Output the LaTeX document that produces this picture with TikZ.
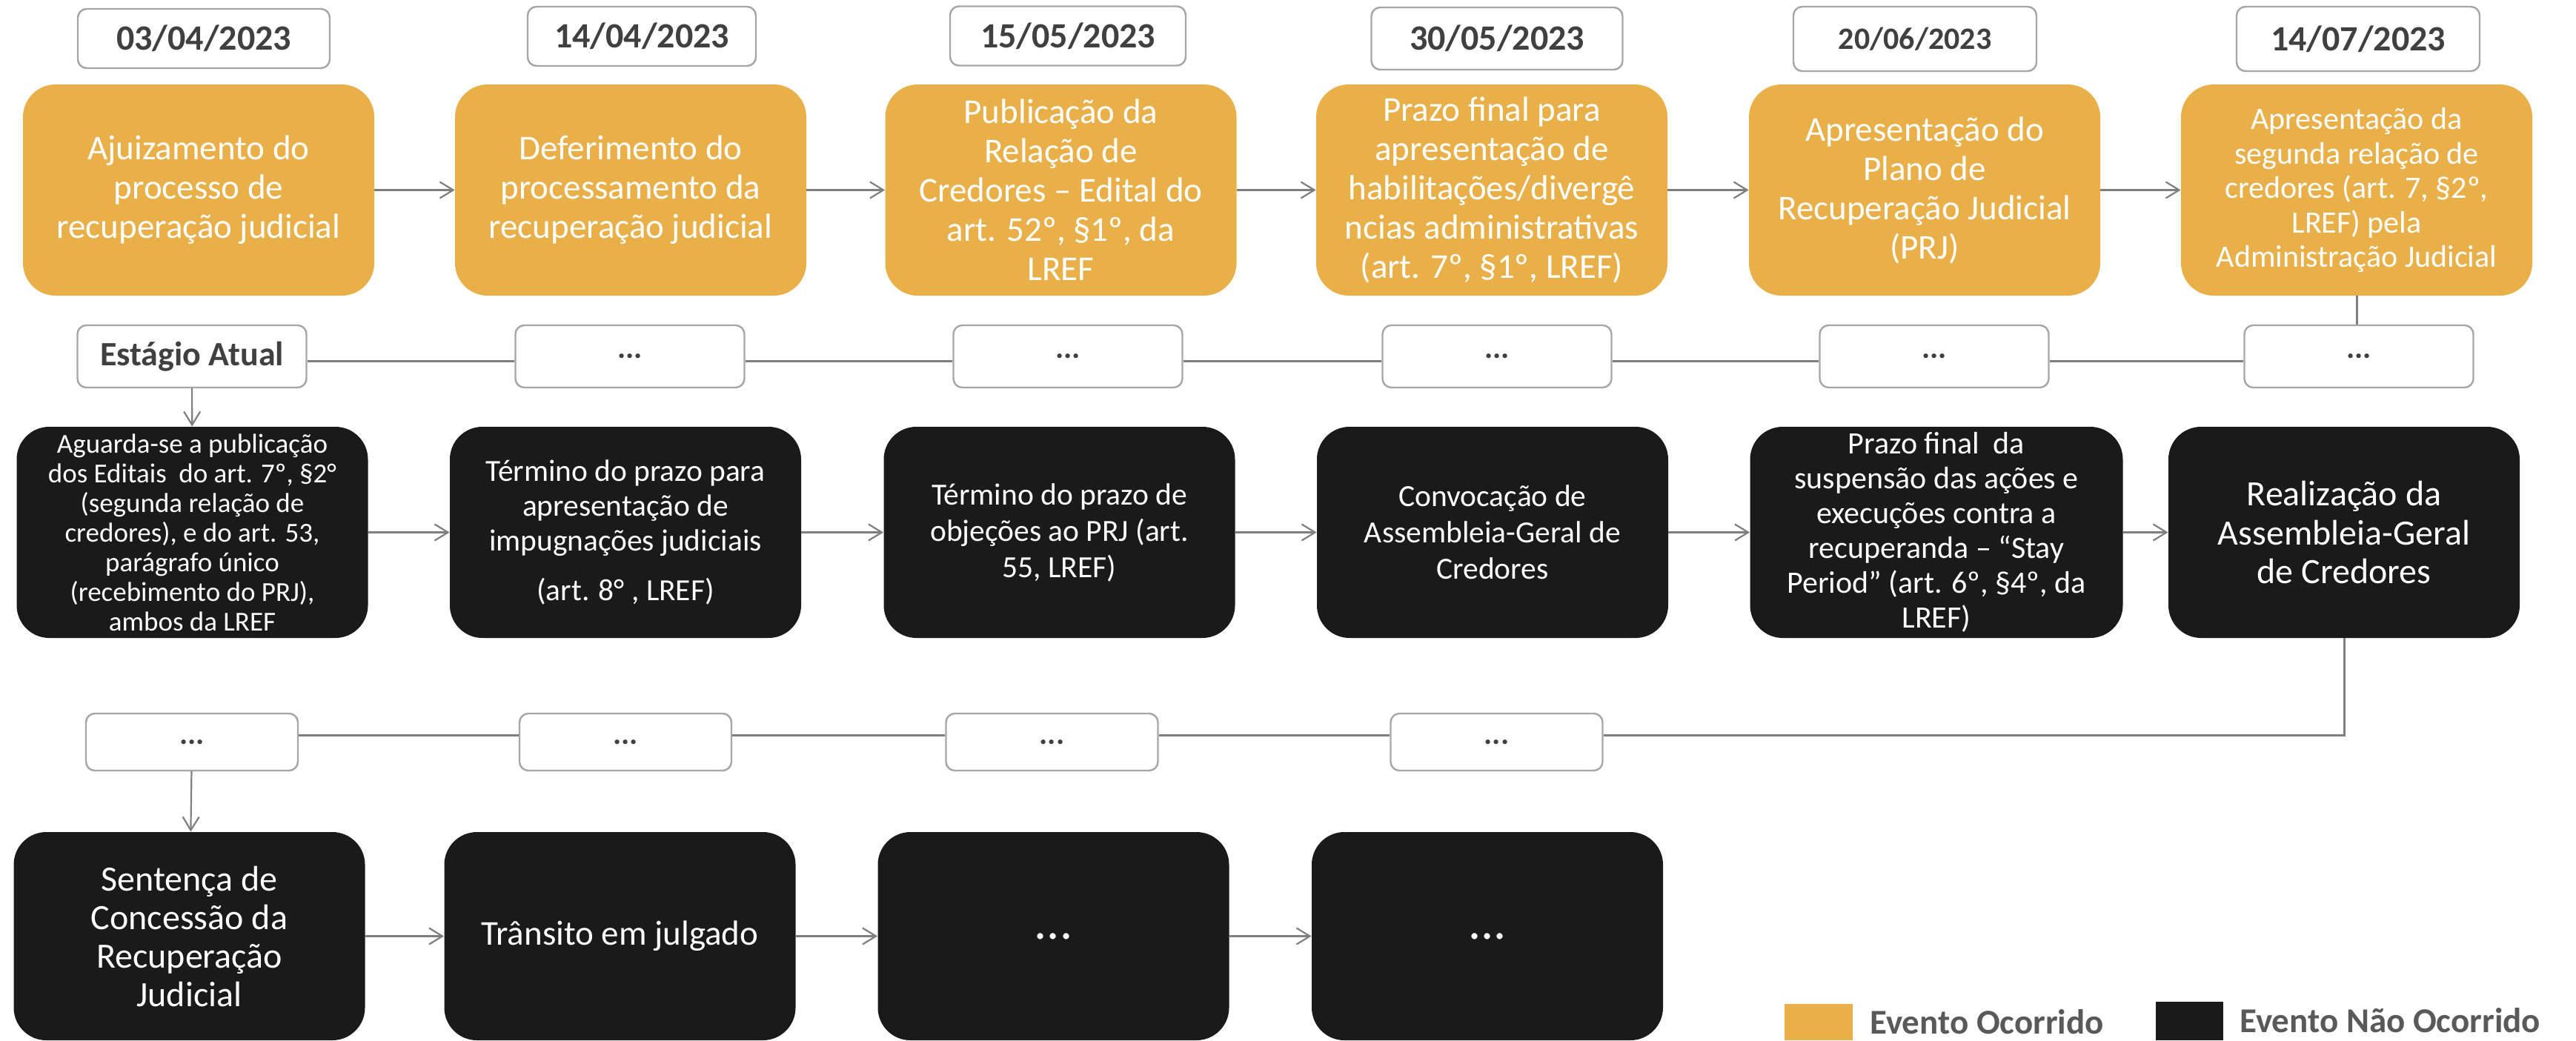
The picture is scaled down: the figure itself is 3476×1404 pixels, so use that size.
\documentclass[tikz,border=0pt]{standalone}
\usepackage{fontspec}
\setmainfont{Carlito}
\usepackage{tikz}
\usetikzlibrary{arrows.meta}
\definecolor{occ}{HTML}{E9B04A}
\definecolor{nocc}{HTML}{1A1A1A}
\definecolor{boxgray}{HTML}{A6A6A6}
\definecolor{lngray}{HTML}{7F7F7F}
\definecolor{txtgray}{HTML}{404040}
\definecolor{keygray}{HTML}{595959}

\begin{document}
\begin{tikzpicture}[x=0.5pt,y=-0.5pt,
  ev/.style={rectangle,rounded corners=22pt,text=white,align=center,inner sep=0pt,
    minimum width=237pt,minimum height=142.5pt,font=\fontsize{23.5}{26.5}\selectfont},
  feito/.style={ev,fill=occ},
  pendente/.style={ev,fill=nocc},
  datebox/.style={rectangle,rounded corners=6pt,draw=boxgray,line width=1.2pt,fill=white,
    inner sep=0pt,minimum height=40pt,text=txtgray,font=\bfseries\fontsize{24}{28}\selectfont},
  dots/.style={datebox,minimum width=154.5pt,minimum height=42pt,font=\bfseries\fontsize{21}{25}\selectfont},
  dotsb/.style={dots,minimum width=143pt,minimum height=38.5pt},
  tl/.style={draw=lngray,line width=1.5pt},
  seta/.style={draw=lngray,line width=1.1pt,-{Straight Barb[length=9pt,width=11pt,line width=1.1pt]}},
  key/.style={inner sep=0pt,text=keygray,font=\bfseries\fontsize{23.5}{27}\selectfont},
]
\useasboundingbox (0,0) rectangle (3476,1404);

\node[datebox,minimum width=170pt] (d1) at (275,52) {03/04/2023};
\node[datebox,minimum width=154pt] (d2) at (866,49) {14/04/2023};
\node[datebox,minimum width=159pt] (d3) at (1441,48.5) {15/05/2023};
\node[datebox,minimum width=169.5pt,minimum height=42pt] (d4) at (2020,52) {30/05/2023};
\node[datebox,minimum width=164pt,minimum height=43.5pt,font=\bfseries\fontsize{21}{25}\selectfont] (d5) at (2584,52.5) {20/06/2023};
\node[datebox,minimum width=164pt,minimum height=43.5pt] (d6) at (3182,52.5) {14/07/2023};

\node[feito] (o1) at (268,256.5) {Ajuizamento do\\processo de\\recuperação judicial};
\node[feito] (o2) at (851,256.5) {Deferimento do\\processamento da\\recuperação judicial};
\node[feito] (o3) at (1431.5,256.5) {Publicação da\\Relação de\\Credores – Edital do\\art. 52º, §1º, da\\LREF};
\node[feito] (o4) at (2013,256.5) {Prazo final para\\apresentação de\\habilitações/divergê\\ncias administrativas\\(art. 7º, §1º, LREF)};
\node[feito] (o5) at (2597,256.5) {Apresentação do\\Plano de\\Recuperação Judicial\\(PRJ)};
\node[feito,font=\fontsize{21}{23.25}\selectfont] (o6) at (3180,256.5) {Apresentação da\\segunda relação de\\credores (art. 7, §2º,\\LREF) pela\\Administração Judicial};

\node[dots,font=\bfseries\fontsize{23}{27}\selectfont] (s1) at (259,481) {Estágio Atual};
\node[dots] (s2) at (850,481) {...};
\node[dots] (s3) at (1441,481) {...};
\node[dots] (s4) at (2020,481) {...};
\node[dots] (s5) at (2610,481) {...};
\node[dots] (s6) at (3183,481) {...};

\node[pendente,font=\fontsize{18.5}{20}\selectfont] (b1) at (259.5,718.5) {Aguarda-se a publicação\\dos Editais\ \ do art. 7º, §2°\\(segunda relação de\\credores), e do art. 53,\\parágrafo único\\(recebimento do PRJ),\\ambos da LREF};
\node[pendente,font=\fontsize{20.7}{23.5}\selectfont] (b2) at (844,718.5) {Término do prazo para\\apresentação de\\impugnações judiciais\\[10pt](art. 8° , LREF)};
\node[pendente,font=\fontsize{20.75}{24.5}\selectfont] (b3) at (1429.5,718.5) {Término do prazo de\\objeções ao PRJ (art.\\55, LREF)};
\node[pendente,font=\fontsize{20.75}{24.5}\selectfont] (b4) at (2014,718.5) {Convocação de\\Assembleia-Geral de\\Credores};
\node[pendente,minimum width=251.5pt,font=\fontsize{21}{23.5}\selectfont] (b5) at (2613,718.5) {Prazo final\ \ da\\suspensão das ações e\\execuções contra a\\recuperanda – “Stay\\Period” (art. 6º, §4º, da\\LREF)};
\node[pendente,font=\fontsize{24}{26.25}\selectfont] (b6) at (3163,718.5) {Realização da\\Assembleia-Geral\\de Credores};

\node[dotsb] (r1) at (259,1001.5) {...};
\node[dotsb] (r2) at (844,1001.5) {...};
\node[dotsb] (r3) at (1419.5,1001.5) {...};
\node[dotsb] (r4) at (2019.5,1001.5) {...};

\node[pendente,minimum height=140.5pt,font=\fontsize{24}{26}\selectfont] (c1) at (255.5,1263.5) {Sentença de\\Concessão da\\Recuperação\\Judicial};
\node[pendente,minimum height=140.5pt] (c2) at (836.5,1263.5) {Trânsito em julgado};
\node[pendente,minimum height=140.5pt,font=\fontsize{34}{40}\selectfont] (c3) at (1421.5,1263.5) {...};
\node[pendente,minimum height=140.5pt,font=\fontsize{34}{40}\selectfont] (c4) at (2007,1263.5) {...};

\foreach \a/\b in {o1/o2,o2/o3,o3/o4,o4/o5,o5/o6,b1/b2,b2/b3,b3/b4,b4/b5,b5/b6,c1/c2,c2/c3,c3/c4}
  \draw[seta] (\a) -- (\b);
\foreach \a/\b in {s1/s2,s2/s3,s3/s4,s4/s5,s5/s6}
  \draw[tl] ([yshift=-3pt]\a.east) -- ([yshift=-3pt]\b.west);
\foreach \a/\b in {r1/r2,r2/r3,r3/r4}
  \draw[tl] ([yshift=4.75pt]\a.east) -- ([yshift=4.75pt]\b.west);
\draw[tl] (o6.south) -- (o6.south |- s6.north);
\draw[tl] (b6.south) |- ([yshift=4.75pt]r4.east);
\draw[seta] (s1) -- (b1);
\draw[seta] (r1) -- (c1);

\node[fill=occ,inner sep=0pt,minimum width=46pt,minimum height=24.5pt] (kocc) at (2454,1379.5) {};
\node[key,anchor=base west] (tocc) at (2523,1395) {Evento Ocorrido};
\node[fill=nocc,inner sep=0pt,minimum width=45.5pt,minimum height=26pt] (knocc) at (2954.5,1378) {};
\node[key,anchor=base west] (tnocc) at (3022,1393) {Evento Não Ocorrido};
\end{tikzpicture}
\end{document}
